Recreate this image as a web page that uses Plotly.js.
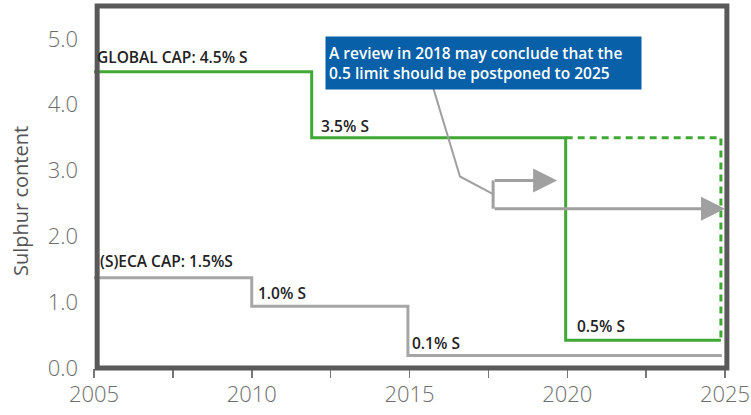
<!DOCTYPE html>
<html>
<head>
<meta charset="utf-8">
<script src="https://cdn.plot.ly/plotly-3.0.1.min.js"></script>
<style>html,body{margin:0;padding:0;background:#fff;}#chart{width:751px;height:415px;}</style>
</head>
<body>
<div id="chart"></div>
<script>
// Global sulphur cap (step)
const globalYears = [2005, 2011.9, 2019.95, 2024.87];
const globalValues = [4.5, 3.5, 0.42, 0.42];
// Postponed scenario (dashed)
const postponeYears = [2019.95, 2024.87, 2024.87];
const postponeValues = [3.5, 3.5, 0.42];
// (S)ECA cap (step)
const ecaYears = [2005, 2010, 2014.95, 2024.9];
const ecaValues = [1.37, 0.94, 0.19, 0.19];
// Review pointer and bracket
const pointerX = [2015.75, 2016.6, 2017.65];
const pointerY = [4.26, 2.91, 2.64];
const bracketX = [2017.65, 2017.65];
const bracketY = [2.85, 2.42];
const arrowTailX = [2017.65, 2017.65];
const arrowTipX = [2019.68, 2025];
const arrowY = [2.85, 2.42];
// Tick labels
const xTickVals = [2005, 2010, 2015, 2020, 2025];
const xTickText = ['2005', '2010', '2015', '2020', '2025'];
const yTickVals = [0, 1, 2, 3, 4, 5];
const yTickText = ['0.0', '1.0', '2.0', '3.0', '4.0', '5.0'];
const yTitle = 'Sulphur content';
// Text labels
const labelTexts = ['GLOBAL CAP: 4.5% S', '3.5% S', '(S)ECA CAP: 1.5%S', '1.0% S', '0.1% S', '0.5% S'];
const labelX = [2005.06, 2012.16, 2005.16, 2010.17, 2015.05, 2020.28];
const labelY = [4.72, 3.68, 1.63, 1.14, 0.38, 0.64];
const boxText = 'A review in 2018 may conclude that the<br>0.5 limit should be postponed to 2025';

const green = '#40A936';
const grey = '#A6A6A6';
const arrowGrey = '#A0A0A0';

const traces = [
  {x: ecaYears, y: ecaValues, mode: 'lines', line: {shape: 'hv', color: grey, width: 3}, hoverinfo: 'skip'},
  {x: globalYears, y: globalValues, mode: 'lines', line: {shape: 'hv', color: green, width: 3}, hoverinfo: 'skip'},
  {x: postponeYears, y: postponeValues, mode: 'lines', line: {color: green, width: 3, dash: '7px,5px'}, hoverinfo: 'skip'},
  {x: pointerX, y: pointerY, mode: 'lines', line: {color: arrowGrey, width: 2}, hoverinfo: 'skip'},
  {x: bracketX, y: bracketY, mode: 'lines', line: {color: arrowGrey, width: 3}, hoverinfo: 'skip'}
];

const annotations = [];
for (let i = 0; i < arrowTipX.length; i++) {
  annotations.push({
    x: arrowTipX[i], y: arrowY[i], ax: arrowTailX[i], ay: arrowY[i],
    xref: 'x', yref: 'y', axref: 'x', ayref: 'y',
    text: '', showarrow: true, arrowhead: 2, arrowsize: 1.6, arrowwidth: 3, arrowcolor: arrowGrey
  });
}
for (let i = 0; i < labelTexts.length; i++) {
  annotations.push({
    x: labelX[i], y: labelY[i], xref: 'x', yref: 'y', text: labelTexts[i],
    showarrow: false, xanchor: 'left', yanchor: 'middle', borderpad: 0,
    font: {family: 'Open Sans, sans-serif', size: 15.5, color: '#222', weight: 600}
  });
}
annotations.push({
  x: 2017.35, y: 4.64, xref: 'x', yref: 'y', text: boxText, showarrow: false,
  xanchor: 'center', yanchor: 'middle', align: 'left', width: 309, height: 46,
  bgcolor: '#0860A8', borderpad: 3,
  font: {family: 'Open Sans, sans-serif', size: 15.5, color: '#fff', weight: 600}
});
annotations.push({
  x: 0, y: 0.5, xref: 'paper', yref: 'paper', xshift: -74, yshift: -14,
  text: yTitle, textangle: -90, showarrow: false, xanchor: 'center', yanchor: 'middle',
  font: {family: 'Open Sans, sans-serif', size: 20, color: '#555'}
});

const layout = {
  width: 751, height: 415,
  margin: {l: 94, r: 26, t: 6, b: 47},
  paper_bgcolor: '#fff', plot_bgcolor: '#fff',
  showlegend: false,
  xaxis: {
    range: [2005, 2025], tickvals: xTickVals, ticktext: xTickText,
    ticks: 'outside', ticklen: 9, tickwidth: 1.5, tickcolor: '#777',
    minor: {dtick: 2.5, tick0: 2005, ticks: 'outside', ticklen: 9, tickwidth: 1.5, tickcolor: '#777'},
    showgrid: false, zeroline: false, showline: false, ticklabelstandoff: -2,
    ticklabeloverflow: 'allow',
    tickfont: {family: 'Open Sans, sans-serif', size: 22, color: '#6E6E6E', weight: 300}
  },
  yaxis: {
    range: [0, 5.5], tickvals: yTickVals, ticktext: yTickText,
    ticks: '', showgrid: false, zeroline: false, showline: false, ticklabelstandoff: 15,
    tickfont: {family: 'Open Sans, sans-serif', size: 22, color: '#6E6E6E', weight: 300}
  },
  shapes: [{
    type: 'rect', xref: 'paper', yref: 'paper', x0: 0.005, x1: 1.003, y0: 0, y1: 1,
    line: {color: '#595959', width: 5}, layer: 'above'
  }],
  annotations: annotations
};

Plotly.newPlot('chart', traces, layout, {staticPlot: true, displayModeBar: false});
</script>
</body>
</html>
